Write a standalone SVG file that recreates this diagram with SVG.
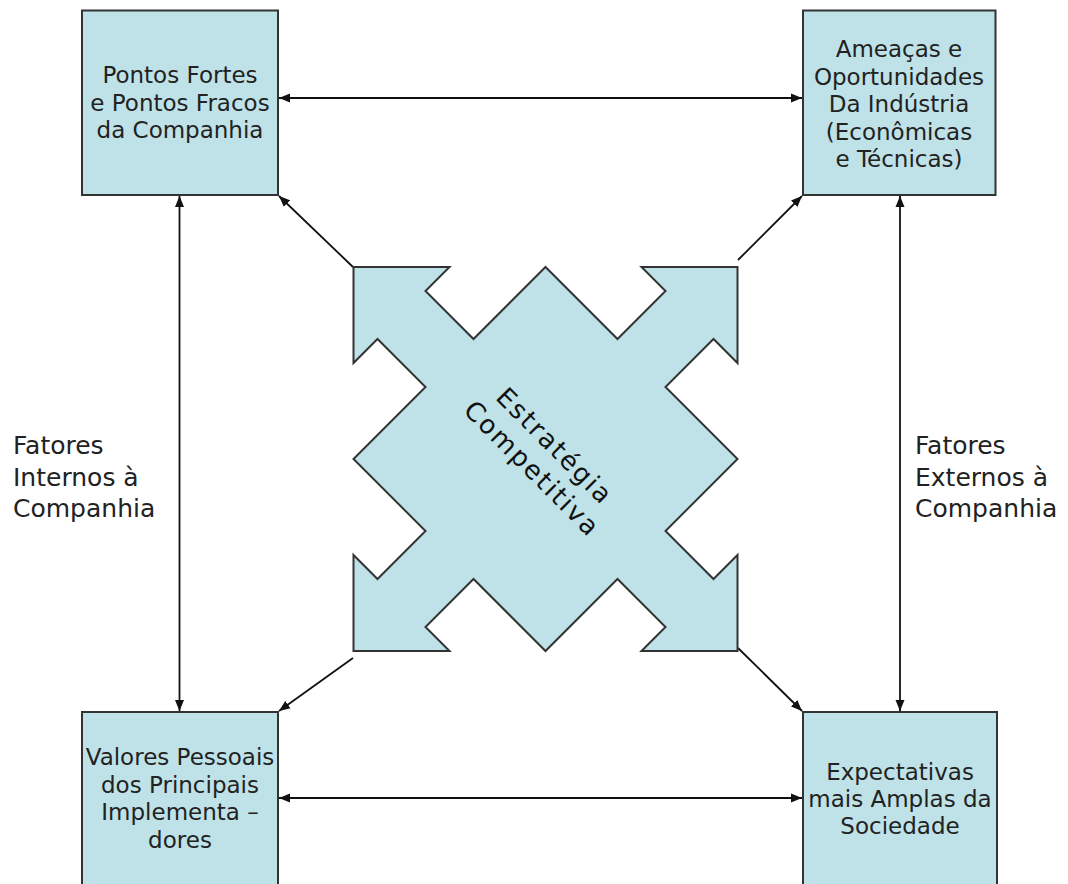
<svg xmlns="http://www.w3.org/2000/svg" width="1068" height="884" viewBox="0 0 1068 884">
<style>
.box{fill:#BEE2E8;stroke:#333;stroke-width:2}
.t{font-family:"DejaVu Sans",Verdana,sans-serif;font-size:23px;fill:#222;text-anchor:middle}
.ct{font-family:"DejaVu Sans",Verdana,sans-serif;font-size:26px;fill:#111;text-anchor:middle;letter-spacing:2px}
.side{font-family:"DejaVu Sans",Verdana,sans-serif;font-size:25px;fill:#222}
.c{fill:none;stroke:#111;stroke-width:1.8}
</style>
<defs>
<marker id="ah" markerUnits="userSpaceOnUse" markerWidth="12" markerHeight="10" viewBox="0 0 12 10" refX="11" refY="5" orient="auto-start-reverse">
<path d="M0,0.5 L11,5 L0,9.5 z" fill="#111"/>
</marker>
</defs>
<rect width="1068" height="884" fill="#fff"/>
<g id="connectors">
<line class="c" x1="279" y1="98" x2="802" y2="98" marker-start="url(#ah)" marker-end="url(#ah)"/>
<line class="c" x1="279" y1="798" x2="802" y2="798" marker-start="url(#ah)" marker-end="url(#ah)"/>
<line class="c" x1="179.5" y1="196" x2="179.5" y2="711" marker-start="url(#ah)" marker-end="url(#ah)"/>
<line class="c" x1="900" y1="196" x2="900" y2="711" marker-start="url(#ah)" marker-end="url(#ah)"/>
<line class="c" x1="353" y1="267" x2="279" y2="196" marker-end="url(#ah)"/>
<line class="c" x1="738" y1="260" x2="802" y2="196" marker-end="url(#ah)"/>
<line class="c" x1="353" y1="658" x2="279" y2="711" marker-end="url(#ah)"/>
<line class="c" x1="738" y1="648" x2="802" y2="711" marker-end="url(#ah)"/>
</g>
<g id="center">
<polygon class="box" transform="translate(545.5,459)" points="-192,-192 -96,-192 -120,-168 -72,-120 0,-192 72,-120 120,-168 96,-192 192,-192 192,-96 168,-120 120,-72 192,0 120,72 168,120 192,96 192,192 96,192 120,168 72,120 0,192 -72,120 -120,168 -96,192 -192,192 -192,96 -168,120 -120,72 -192,0 -120,-72 -168,-120 -192,-96"/>
<g transform="translate(540,461) rotate(45)">
<text class="ct" x="0" y="-12">Estratégia</text>
<text class="ct" x="0" y="20">Competitiva</text>
</g>
</g>
<g id="n1">
<rect class="box" x="82" y="10.5" width="196" height="184.5"/>
<text class="t" x="180" y="83">Pontos Fortes</text>
<text class="t" x="180" y="110.5">e Pontos Fracos</text>
<text class="t" x="180" y="138">da Companhia</text>
</g>
<g id="n2">
<rect class="box" x="803" y="10.5" width="192.5" height="184.5"/>
<text class="t" x="899" y="57">Ameaças e</text>
<text class="t" x="899" y="84.5">Oportunidades</text>
<text class="t" x="899" y="112">Da Indústria</text>
<text class="t" x="899" y="139.5">(Econômicas</text>
<text class="t" x="899" y="167">e Técnicas)</text>
</g>
<g id="n3">
<rect class="box" x="82" y="712" width="196" height="190"/>
<text class="t" x="180" y="765">Valores Pessoais</text>
<text class="t" x="180" y="792.5">dos Principais</text>
<text class="t" x="180" y="820">Implementa –</text>
<text class="t" x="180" y="847.5">dores</text>
</g>
<g id="n4">
<rect class="box" x="803" y="712" width="194" height="190"/>
<text class="t" x="900" y="780">Expectativas</text>
<text class="t" x="900" y="807">mais Amplas da</text>
<text class="t" x="900" y="834">Sociedade</text>
</g>
<g id="labels">
<text class="side" x="13" y="454">Fatores</text>
<text class="side" x="13" y="485.5">Internos à</text>
<text class="side" x="13" y="517">Companhia</text>
<text class="side" x="915" y="454">Fatores</text>
<text class="side" x="915" y="485.5">Externos à</text>
<text class="side" x="915" y="517">Companhia</text>
</g>
</svg>
